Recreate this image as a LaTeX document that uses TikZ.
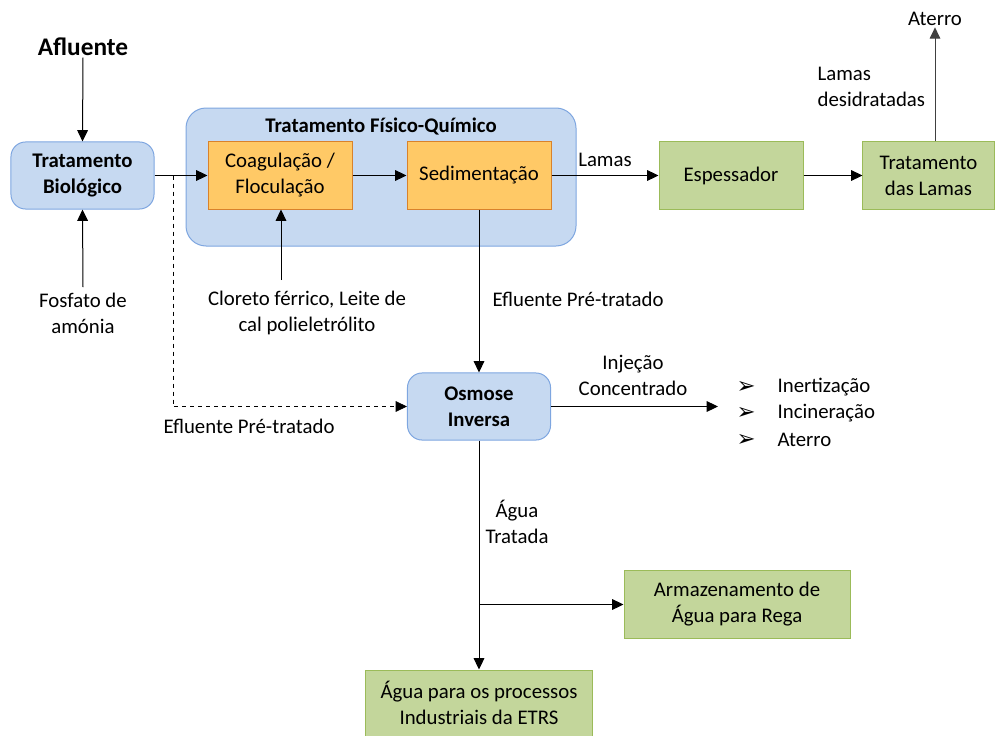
\documentclass[tikz,border=0pt]{standalone}
\usepackage{fontspec}
\setmainfont{Carlito}
\newfontfamily\symfont{DejaVu Sans}
\usetikzlibrary{arrows.meta}
\definecolor{bluefill}{HTML}{C6D9F1}
\definecolor{blueline}{HTML}{7EA6E0}
\definecolor{orfill}{HTML}{FFC966}
\definecolor{orline}{HTML}{D9822B}
\definecolor{grfill}{HTML}{C3D69B}
\definecolor{grline}{HTML}{9BBB59}
\tikzset{
  every node/.style={font=\fontsize{15.6}{19.5}\selectfont, inner sep=1pt},
  txt/.style={align=center},
  bluebox/.style={draw=blueline, fill=bluefill, line width=0.75pt, rounded corners=11pt, align=center, minimum width=107.3pt, minimum height=50.3pt, font=\fontsize{15.6}{19.5}\selectfont\bfseries},
  orbox/.style={draw=orline, fill=orfill, line width=0.75pt, align=center, minimum width=108pt, minimum height=50.3pt},
  grbox/.style={draw=grline, fill=grfill, line width=0.75pt, align=center, minimum height=50.3pt},
  arr/.style={-{Triangle[length=8.5pt,width=8pt]}, line width=0.75pt},
  conn/.style={line width=0.75pt}
}
\begin{document}
\begin{tikzpicture}[x=0.75pt,y=-0.75pt]
\useasboundingbox (0,0) rectangle (995,735);
% group box
\node[draw=blueline, fill=bluefill, line width=0.75pt, rounded corners=15pt, minimum width=292.5pt, minimum height=103.5pt] (grp) at (381,177) {};
\node[font=\fontsize{15.6}{19.5}\selectfont\bfseries] (grptitle) at (381,127) {Tratamento Físico-Químico};
% boxes
\node[bluebox] (bio) at (82.5,175.5) {Tratamento\\Biológico};
\node[orbox] (coag) at (280,175.5) {Coagulação /\\Floculação};
\node[orbox] (sed) at (479,175.5) {Sedimentação};
\node[grbox, minimum width=108pt] (esp) at (731,175.5) {Espessador};
\node[grbox, minimum width=98.3pt] (lam) at (928.5,175.5) {Tratamento\\das Lamas};
\node[bluebox] (osm) at (479,406.5) {Osmose\\Inversa};
\node[grbox, minimum width=169.5pt] (arm) at (737,604.5) {Armazenamento de\\Água para Rega};
\node[grbox, minimum width=170pt, minimum height=49.5pt] (ind) at (479,703) {Água para os processos\\Industriais da ETRS};
% texts
\node[font=\fontsize{19}{23}\selectfont\bfseries] (afl) at (83,47) {Afluente};
\node[txt, inner sep=4pt] (fos) at (83,313) {Fosfato de\\amónia};
\node[txt] (clo) at (307,313) {Cloreto férrico, Leite de\\cal polieletrólito};
\node (ater) at (935,19) {Aterro};
\node[align=left, anchor=west] (lamdes) at (816,87) {Lamas\\desidratadas};
\node (lamlbl) at (605,160) {Lamas};
\node[anchor=west] (efl1) at (491,299) {Efluente Pré-tratado};
\node (efl2) at (249,426) {Efluente Pré-tratado};
\node[txt] (inj) at (633,375) {Injeção\\Concentrado};
\node[txt] (agt) at (517,522) {Água\\Tratada};
\node[anchor=west] (b1) at (776,387) {Inertização};
\node[anchor=west] (b2) at (776,413) {Incineração};
\node[anchor=west] (b3) at (776,440) {Aterro};
\node[font=\fontsize{17}{19}\symfont] (m1) at (746,387) {➢};
\node[font=\fontsize{17}{19}\symfont] (m2) at (746,413) {➢};
\node[font=\fontsize{17}{19}\symfont] (m3) at (746,440) {➢};
% coordinates
\coordinate (ds) at (173,175.5);
\coordinate (cloarr) at (281,280);
\coordinate (injend) at (718,406.5);
\coordinate (br) at (479,604.5);
% connectors
\draw[arr] (afl.south) -- (bio.north);
\draw[arr] (fos.north) -- (bio.south);
\draw[arr] (bio.east) -- (coag.west);
\draw[arr, dashed, line width=0.6pt] (ds) |- (osm.west);
\draw[arr] (coag.east) -- (sed.west);
\draw[arr] (cloarr) -- (cloarr |- coag.south);
\draw[arr] (sed.east) -- (esp.west);
\draw[arr] (esp.east) -- (lam.west);
\draw[arr, black!75] (ater.south |- lam.north) -- (ater.south);
\draw[arr] (sed.south) -- (osm.north);
\draw[arr] (osm.east) -- (injend);
\draw[arr] (osm.south) -- (ind.north);
\draw[arr] (br) -- (arm.west);
\end{tikzpicture}
\end{document}
